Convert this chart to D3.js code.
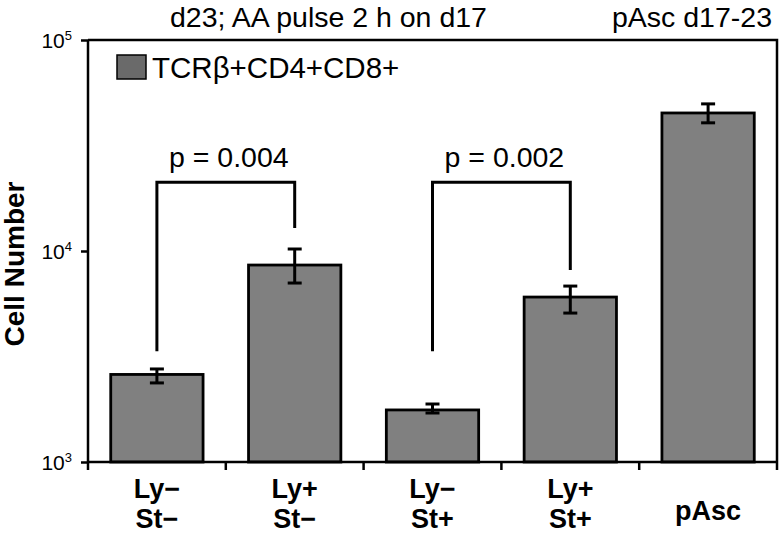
<!DOCTYPE html>
<html>
<head>
<meta charset="utf-8">
<script src="https://cdn.jsdelivr.net/npm/d3@7"></script>
<style>
  html, body { margin: 0; padding: 0; background: #fff; }
  svg { display: block; font-family: "Liberation Sans", Arial, Helvetica, sans-serif; }
</style>
</head>
<body>
<svg id="chart" width="780" height="536"></svg>
<script>
// ---- data ----
const categories = ["Ly− St−", "Ly+ St−", "Ly− St+", "Ly+ St+", "pAsc"];
const categoryLines = [["Ly−", "St−"], ["Ly+", "St−"], ["Ly−", "St+"], ["Ly+", "St+"], ["pAsc"]];
const values = [2600, 8580, 1765, 6050, 45100];
const errLow = [2370, 7050, 1707, 5080, 40500];
const errHigh = [2760, 10220, 1883, 6820, 49800];
const yTicks = [1000, 10000, 100000];
const yTickExponents = ["3", "4", "5"];
const seriesName = "TCRβ+CD4+CD8+";
const bracketFrom = [0, 2];
const bracketTo = [1, 3];
const bracketLabels = ["p = 0.004", "p = 0.002"];
const bracketTop = [21200, 21200];
const bracketLeftEnd = [3350, 3350];
const bracketRightEnd = [12850, 8130];
const titleLeft = "d23; AA pulse 2 h on d17";
const titleRight = "pAsc d17-23";
const yTitle = "Cell Number";

// ---- layout ----
const svg = d3.select("#chart");
const L = 88, R = 777, T = 40, B = 462;

const x = d3.scaleBand().domain(categories).range([L, R]).padding(0);
const y = d3.scaleLog().domain([1000, 100000]).range([B, T]);
const barW = x.bandwidth() * 0.67;
const cx = c => x(c) + x.bandwidth() / 2;

// bars
svg.append("g").selectAll("rect").data(categories).join("rect")
  .attr("x", d => cx(d) - barW / 2)
  .attr("y", (d, i) => y(values[i]))
  .attr("width", barW)
  .attr("height", (d, i) => B - y(values[i]))
  .attr("fill", "#808080")
  .attr("stroke", "#000")
  .attr("stroke-width", 2.8);

// error bars
const eg = svg.append("g").attr("stroke", "#000").attr("stroke-width", 3);
categories.forEach((c, i) => {
  const xc = cx(c);
  eg.append("line").attr("x1", xc).attr("x2", xc).attr("y1", y(errLow[i])).attr("y2", y(errHigh[i]));
  eg.append("line").attr("x1", xc - 7).attr("x2", xc + 7).attr("y1", y(errLow[i])).attr("y2", y(errLow[i]));
  eg.append("line").attr("x1", xc - 7).attr("x2", xc + 7).attr("y1", y(errHigh[i])).attr("y2", y(errHigh[i]));
});

// frame (top & right)
svg.append("path")
  .attr("d", `M${L},${T}H${R}V${B}`)
  .attr("fill", "none").attr("stroke", "#000").attr("stroke-width", 2.5);

// y axis
const yAxis = svg.append("g").attr("transform", `translate(${L},0)`)
  .call(d3.axisLeft(y).tickValues(yTicks).tickSize(7).tickFormat(""));
yAxis.select(".domain").attr("stroke-width", 2.5).attr("d", `M0,${T}V${B}`);
yAxis.selectAll(".tick line").attr("stroke-width", 2.5);
yAxis.selectAll(".tick").each(function (d, i) {
  const t = d3.select(this).append("text")
    .attr("x", -16).attr("y", 7.5)
    .attr("text-anchor", "end")
    .attr("fill", "#000")
    .style("font-size", "21px")
    .style("font-family", '"Liberation Sans", Arial, sans-serif');
  t.append("tspan").text("10");
  t.append("tspan").attr("dy", -8).style("font-size", "13px").text(yTickExponents[i]);
});

// x axis
const xAxis = svg.append("g").attr("transform", `translate(0,${B})`)
  .call(d3.axisBottom(x).tickSize(0).tickFormat(""));
xAxis.select(".domain").attr("stroke-width", 2.5).attr("d", `M${L},0H${R}`);
const bounds = categories.map(c => x(c)).concat([R]);
xAxis.selectAll(".bnd").data(bounds).join("line")
  .attr("class", "bnd")
  .attr("x1", d => d).attr("x2", d => d)
  .attr("y1", 0).attr("y2", 8)
  .attr("stroke", "#000").attr("stroke-width", 2.5);

// x labels
const xl = svg.append("g").style("font-size", "27px").style("font-weight", "bold").attr("text-anchor", "middle");
categories.forEach((c, i) => {
  const lines = categoryLines[i];
  if (lines.length === 2) {
    lines.forEach((ln, j) => {
      xl.append("text").attr("x", cx(c)).attr("y", 498 + j * 30).text(ln);
    });
  } else {
    xl.append("text").attr("x", cx(c)).attr("y", 520).text(lines[0]);
  }
});

// brackets
const bg = svg.append("g");
bracketFrom.forEach((f, k) => {
  const x1 = cx(categories[f]), x2 = cx(categories[bracketTo[k]]);
  const yt = y(bracketTop[k]);
  bg.append("path")
    .attr("d", `M${x1},${y(bracketLeftEnd[k])}V${yt}H${x2}V${y(bracketRightEnd[k])}`)
    .attr("fill", "none").attr("stroke", "#000").attr("stroke-width", 3);
  bg.append("text")
    .attr("x", (x1 + x2) / 2 + 3).attr("y", yt - 15)
    .attr("text-anchor", "middle")
    .style("font-size", "28.5px")
    .text(bracketLabels[k]);
});

// legend
svg.append("rect").attr("x", 117).attr("y", 55).attr("width", 29).attr("height", 24)
  .attr("fill", "#6a6a6a").attr("stroke", "#000").attr("stroke-width", 1.5);
svg.append("text").attr("x", 152).attr("y", 78).style("font-size", "29.5px").text(seriesName);

// titles
svg.append("text").attr("x", 170).attr("y", 27).style("font-size", "28.5px").text(titleLeft);
svg.append("text").attr("x", 772).attr("y", 27).attr("text-anchor", "end").style("font-size", "28.5px").text(titleRight);

// y title
svg.append("text")
  .attr("transform", "translate(24,264) rotate(-90)")
  .attr("text-anchor", "middle")
  .style("font-size", "28px").style("font-weight", "bold")
  .text(yTitle);
</script>
</body>
</html>
